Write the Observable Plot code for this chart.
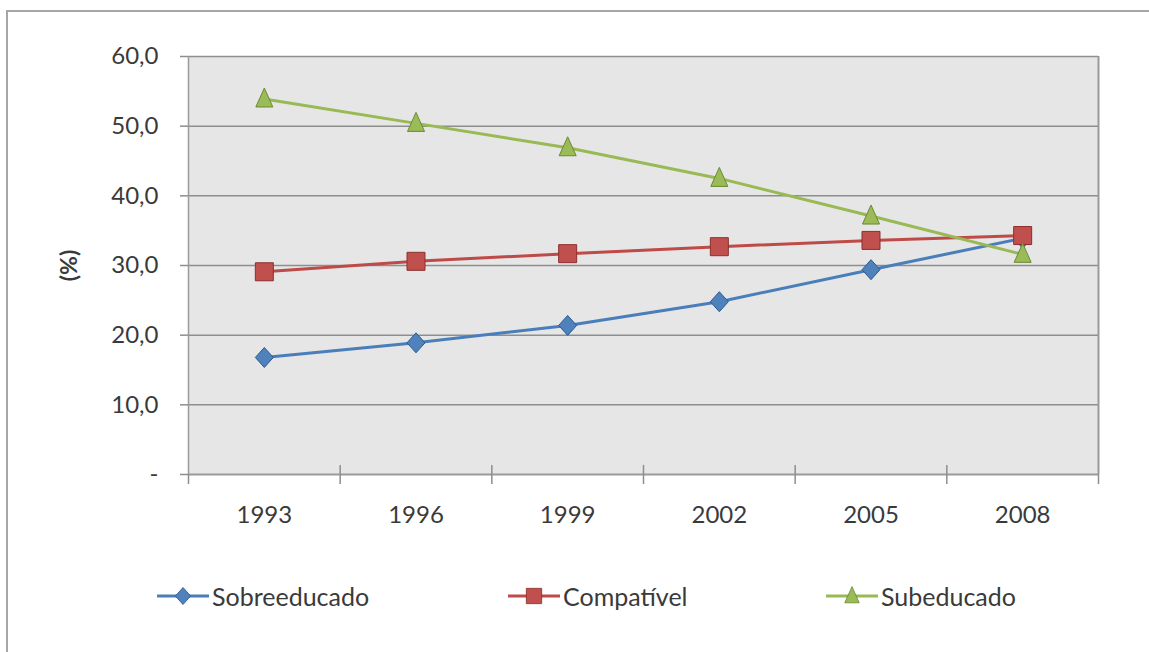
<!DOCTYPE html>
<html>
<head>
<meta charset="utf-8">
<script src="https://cdn.jsdelivr.net/npm/d3@7"></script>
<script src="https://cdn.jsdelivr.net/npm/@observablehq/plot@0.6"></script>
<style>
  html, body { margin: 0; padding: 0; background: #fff; }
  body { width: 1149px; height: 652px; position: relative; overflow: hidden; font-family: Lato, "Open Sans", sans-serif; }
  #frame { position: absolute; left: 6px; top: 10px; width: 1160px; height: 660px; border-left: 2px solid #a6a6a6; border-top: 2px solid #a6a6a6; box-sizing: border-box; }
  #chart { position: absolute; left: 0; top: 0; }
  #chart svg text { fill: #3a3a3a; }
  #legend { position: absolute; left: 0; top: 581px; width: 1149px; height: 30px; }
  .item { position: absolute; top: 0; display: flex; align-items: center; font-size: 25px; color: #3a3a3a; }
  .item svg { display: block; margin-right: 3px; }
  .item:nth-child(1) { left: 157px; }
  .item:nth-child(2) { left: 508px; }
  .item:nth-child(3) { left: 826px; }
</style>
</head>
<body>
<div id="frame"></div>
<div id="chart"></div>
<div id="legend"></div>
<script>
const years = ["1993", "1996", "1999", "2002", "2005", "2008"];
const seriesNames = ["Sobreeducado", "Compatível", "Subeducado"];
const sobreeducado = [16.8, 18.9, 21.4, 24.8, 29.4, 33.9];
const compativel = [29.1, 30.6, 31.7, 32.7, 33.6, 34.3];
const subeducado = [53.9, 50.4, 46.9, 42.5, 37.1, 31.6];
const yTicks = [0, 10, 20, 30, 40, 50, 60];
const lineColors = ["#4a7ebb", "#be4b48", "#98b954"];
const markerFill = ["#4f81bd", "#c0504d", "#9bbb59"];
const markerStroke = ["#2c5a8c", "#8c2f2c", "#6a8a30"];

// marker shapes (Excel-like proportions)
const diamondSym = { draw(ctx) { ctx.moveTo(0, -10); ctx.lineTo(9, 0); ctx.lineTo(0, 10); ctx.lineTo(-9, 0); ctx.closePath(); } };
const squareSym = { draw(ctx) { ctx.rect(-9, -9, 18, 18); } };
const triangleSym = { draw(ctx) { ctx.moveTo(0, -11); ctx.lineTo(8.5, 8); ctx.lineTo(-8.5, 8); ctx.closePath(); } };
const symbols = [diamondSym, squareSym, triangleSym];

const seriesValues = [sobreeducado, compativel, subeducado];
const data = [];
seriesNames.forEach((s, si) => {
  seriesValues[si].forEach((v, i) => data.push({series: s, xi: i + 0.5, year: years[i], value: v}));
});
const boundaries = d3.range(years.length + 1);
const inner = boundaries.slice(1, -1);
const centers = years.map((_, i) => i + 0.5);
const fmt = d => d === 0 ? "-" : d.toFixed(1).replace(".", ",");

const plot = Plot.plot({
  width: 1149,
  height: 545,
  marginLeft: 188,
  marginRight: 51,
  marginTop: 56,
  marginBottom: 71,
  style: { fontFamily: "Lato, 'Open Sans', sans-serif", fontSize: "24px", background: "transparent", overflow: "visible" },
  x: { type: "linear", domain: [0, years.length] },
  y: { domain: [0, 60] },
  color: { domain: seriesNames, range: lineColors },
  symbol: { domain: seriesNames, range: symbols },
  marks: [
    Plot.frame({ fill: "#e6e6e6", stroke: "none" }),
    Plot.ruleY(yTicks.filter(d => d > 0), { stroke: "#8e8e8e", strokeWidth: 1.5 }),
    Plot.ruleX([years.length], { stroke: "#9a9a9a", strokeWidth: 2 }),
    Plot.ruleX([0], { stroke: "#9a9a9a", strokeWidth: 1.5 }),
    Plot.ruleY([0], { stroke: "#9a9a9a", strokeWidth: 2 }),
    Plot.ruleX(inner, { y1: 0, y2: 1.3, stroke: "#8e8e8e", strokeWidth: 1.5 }),
    Plot.axisY({ ticks: yTicks, tickFormat: fmt, tickSize: 8, tickPadding: 22, stroke: "#8e8e8e", strokeWidth: 1.5, label: "(%)", labelAnchor: "center", labelOffset: 128, labelArrow: "none" }),
    Plot.axisX({ ticks: boundaries, tickFormat: () => "", tickSize: 10, stroke: "#8e8e8e", strokeWidth: 1.5, label: null }),
    Plot.axisX({ ticks: centers, tickFormat: d => years[Math.round(d - 0.5)], tickSize: 0, tickPadding: 31, label: null }),
    Plot.line(data, { x: "xi", y: "value", z: "series", stroke: "series", strokeWidth: 3 }),
    Plot.dot(data, {
      x: "xi", y: "value", symbol: "series", r: 8,
      fill: d => markerFill[seriesNames.indexOf(d.series)],
      stroke: d => markerStroke[seriesNames.indexOf(d.series)],
      strokeWidth: 1
    })
  ]
});
document.getElementById("chart").appendChild(plot);
d3.select(plot).selectAll('[aria-label="y-axis label"] text').style("font-weight", "bold").style("font-size", "23px");

// legend
const legend = d3.select("#legend");
seriesNames.forEach((s, i) => {
  const item = legend.append("div").attr("class", "item");
  const svg = item.append("svg").attr("width", 52).attr("height", 26);
  svg.append("line").attr("x1", 0).attr("x2", 52).attr("y1", 13).attr("y2", 13)
    .attr("stroke", lineColors[i]).attr("stroke-width", 3);
  const p = d3.path();
  symbols[i].draw(p, 0);
  svg.append("path").attr("d", p.toString())
    .attr("transform", "translate(26,13) scale(0.85)")
    .attr("fill", markerFill[i]).attr("stroke", markerStroke[i]).attr("stroke-width", 1);
  item.append("span").text(s);
});
</script>
</body>
</html>
